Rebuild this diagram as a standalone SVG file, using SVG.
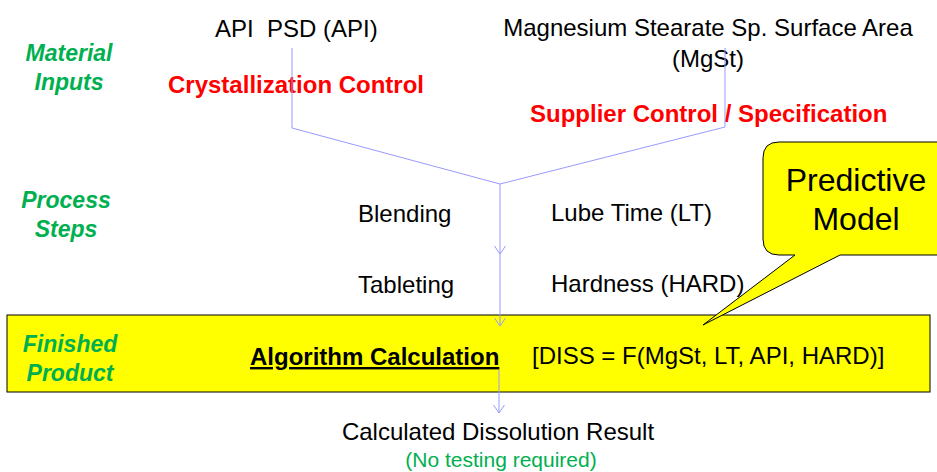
<svg xmlns="http://www.w3.org/2000/svg" width="937" height="472" viewBox="0 0 937 472">
<defs>
<style>
text{font-family:"Liberation Sans",Arial,sans-serif;}
.lbl{font-size:24px;fill:#000;}
.grn{font-size:23px;font-weight:bold;font-style:italic;fill:#00B050;}
.red{font-size:24px;font-weight:bold;fill:#FF0000;}
.con{fill:none;stroke:#9999FF;stroke-width:1;}
</style>
<marker id="ah" markerWidth="12" markerHeight="12" refX="8" refY="6" orient="auto" markerUnits="userSpaceOnUse" viewBox="0 0 12 12">
<path d="M0,0.5 L8,6 L0,11.5" fill="none" stroke="#9999FF" stroke-width="1"/>
</marker>
</defs>
<rect width="937" height="472" fill="#fff"/>
<g id="finished-box">
<rect x="7" y="315" width="923" height="77" fill="#FFFF00" stroke="#000" stroke-width="1"/>
</g>
<g id="row-labels">
<text class="grn" x="69" y="61" text-anchor="middle">Material</text>
<text class="grn" x="69" y="90" text-anchor="middle">Inputs</text>
<text class="grn" x="66" y="208" text-anchor="middle">Process</text>
<text class="grn" x="66" y="237" text-anchor="middle">Steps</text>
<text class="grn" x="70" y="352" text-anchor="middle">Finished</text>
<text class="grn" x="70" y="381" text-anchor="middle">Product</text>
</g>
<g id="api">
<text class="lbl" x="215" y="37" xml:space="preserve">API  PSD (API)</text>
</g>
<g id="crystallization">
<text class="red" x="168" y="93">Crystallization Control</text>
</g>
<g id="mgst">
<text class="lbl" x="708" y="36" text-anchor="middle">Magnesium Stearate Sp. Surface Area</text>
<text class="lbl" x="708" y="67" text-anchor="middle">(MgSt)</text>
</g>
<g id="supplier">
<text class="red" x="530" y="122">Supplier Control / Specification</text>
</g>
<g id="blending">
<text class="lbl" x="358" y="222">Blending</text>
</g>
<g id="lube">
<text class="lbl" x="551" y="221">Lube Time (LT)</text>
</g>
<g id="tableting">
<text class="lbl" x="358" y="293">Tableting</text>
</g>
<g id="hardness">
<text class="lbl" x="551" y="292">Hardness (HARD)</text>
</g>
<g id="algorithm">
<text class="lbl" x="250" y="365" font-weight="bold" text-decoration="underline">Algorithm Calculation</text>
<text class="lbl" x="532" y="364">[DISS = F(MgSt, LT, API, HARD)]</text>
</g>
<g id="result">
<text class="lbl" x="498" y="440" text-anchor="middle">Calculated Dissolution Result</text>
<text x="501" y="467" text-anchor="middle" font-size="21" fill="#00B050">(No testing required)</text>
</g>
<g id="predictive-model">
<path d="M779,142 H950 V255 H840 L703,325 L795,255 H779 Q763,255 763,239 V158 Q763,142 779,142 Z" fill="#FFFF00" stroke="#000" stroke-width="1"/>
<text x="856" y="191" text-anchor="middle" font-size="32" fill="#000">Predictive</text>
<text x="856" y="230" text-anchor="middle" font-size="32" fill="#000">Model</text>
</g>
<g id="connectors">
<polyline class="con" points="292,48 292,128 500,184"/>
<polyline class="con" points="725,48 725,127 500,184"/>
<line class="con" x1="500" y1="184" x2="500" y2="254" marker-end="url(#ah)"/>
<line class="con" x1="500" y1="254" x2="500" y2="326" marker-end="url(#ah)"/>
<line class="con" x1="499" y1="370" x2="499" y2="413" marker-end="url(#ah)"/>
</g>
</svg>
